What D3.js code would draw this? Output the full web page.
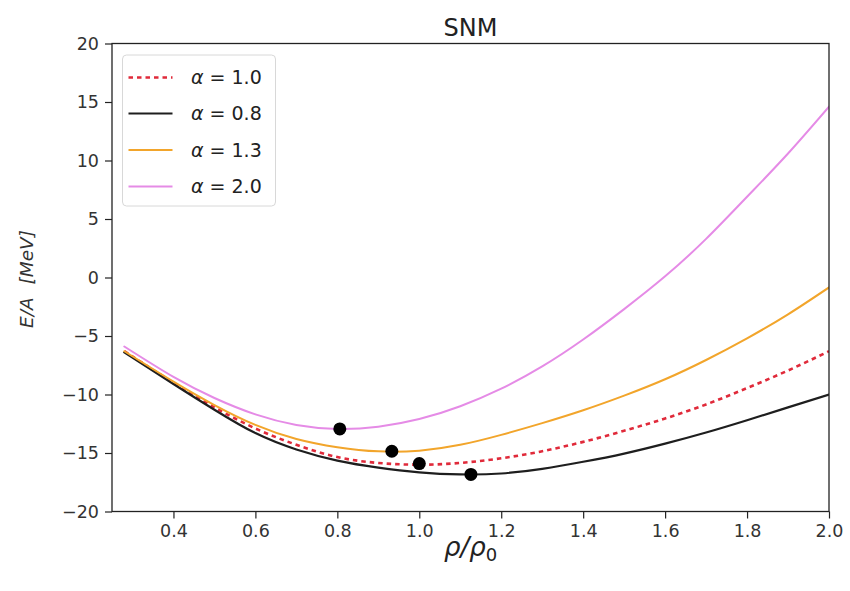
<!DOCTYPE html>
<html>
<head>
<meta charset="utf-8">
<script src="https://cdn.jsdelivr.net/npm/d3@7"></script>
<style>
  html, body { margin: 0; padding: 0; background: #fff; }
  svg { display: block; font-family: "DejaVu Sans", sans-serif; }
</style>
</head>
<body>
<svg id="chart" width="850" height="591"></svg>
<script>
// Density grid (rho / rho0)
const density = [0.28, 0.4, 0.5, 0.6, 0.7, 0.8, 0.9, 1.0, 1.1, 1.2, 1.3, 1.4, 1.5, 1.6, 1.7, 1.8, 1.9, 2.0];

// Energy per nucleon (MeV) for each alpha
const energyA10 = [-6.3, -9.0, -11.1, -12.9, -14.3, -15.35, -15.85, -16.0, -15.85, -15.45, -14.85, -14.05, -13.1, -12.05, -10.85, -9.45, -7.95, -6.3];
const energyA08 = [-6.4, -9.1, -11.3, -13.3, -14.7, -15.65, -16.25, -16.65, -16.83, -16.75, -16.35, -15.75, -15.05, -14.2, -13.25, -12.2, -11.1, -10.0];
const energyA13 = [-6.3, -8.9, -10.9, -12.6, -13.8, -14.5, -14.86, -14.8, -14.3, -13.45, -12.45, -11.35, -10.1, -8.7, -7.05, -5.2, -3.15, -0.85];
const energyA20 = [-5.9, -8.5, -10.3, -11.7, -12.6, -12.94, -12.75, -12.1, -11.0, -9.5, -7.6, -5.3, -2.7, 0.1, 3.3, 6.9, 10.6, 14.6];

// Saturation points (minima)
const minDensity = [1.0, 1.126, 0.933, 0.806];
const minEnergy = [-15.9, -16.83, -14.85, -12.94];

// Series labels and tick values
const seriesLabels = ["\u03b1 = 1.0", "\u03b1 = 0.8", "\u03b1 = 1.3", "\u03b1 = 2.0"];
const xTicks = [0.4, 0.6, 0.8, 1.0, 1.2, 1.4, 1.6, 1.8, 2.0];
const yTicks = [-20, -15, -10, -5, 0, 5, 10, 15, 20];

const series = [
  { label: seriesLabels[0], values: energyA10, color: "#e02a3a", width: 2.6, dash: "4.5,4" },
  { label: seriesLabels[1], values: energyA08, color: "#1e1e1e", width: 2.2, dash: null },
  { label: seriesLabels[2], values: energyA13, color: "#f2a52b", width: 2.0, dash: null },
  { label: seriesLabels[3], values: energyA20, color: "#e58be6", width: 2.0, dash: null }
];

const svg = d3.select("#chart");
const plot = { left: 112, right: 829, top: 43.5, bottom: 511.5 };

const x = d3.scaleLinear().domain([0.25, 2.0]).range([plot.left, plot.right]);
const y = d3.scaleLinear().domain([-20, 20]).range([plot.bottom, plot.top]);

const fmtMinus = d => (d < 0 ? "\u2212" + Math.abs(d) : String(d));

// Clip for curves
svg.append("defs").append("clipPath").attr("id", "clip")
  .append("rect")
  .attr("x", plot.left).attr("y", plot.top)
  .attr("width", plot.right - plot.left).attr("height", plot.bottom - plot.top);

// Curves
const line = d3.line()
  .x((d, i) => x(density[i]))
  .y(d => y(d))
  .curve(d3.curveNatural);

const curves = svg.append("g").attr("clip-path", "url(#clip)");
series.forEach(s => {
  curves.append("path")
    .datum(s.values)
    .attr("d", line)
    .attr("fill", "none")
    .attr("stroke", s.color)
    .attr("stroke-width", s.width)
    .attr("stroke-dasharray", s.dash)
    .attr("stroke-linecap", s.dash ? "butt" : "round");
});

// Minimum markers
svg.append("g").selectAll("circle")
  .data(minDensity)
  .join("circle")
  .attr("cx", d => x(d))
  .attr("cy", (d, i) => y(minEnergy[i]))
  .attr("r", 6.5)
  .attr("fill", "#000");

// Axes
const xAxis = d3.axisBottom(x).tickValues(xTicks).tickFormat(d3.format(".1f")).tickSize(7).tickPadding(6);
const yAxis = d3.axisLeft(y).tickValues(yTicks).tickFormat(fmtMinus).tickSize(7).tickPadding(6);

const gx = svg.append("g").attr("transform", `translate(0,${plot.bottom})`).call(xAxis);
const gy = svg.append("g").attr("transform", `translate(${plot.left},0)`).call(yAxis);

[gx, gy].forEach(g => {
  g.select(".domain").remove();
  g.selectAll(".tick line").attr("stroke", "#222").attr("stroke-width", 1.2);
  g.selectAll(".tick text").attr("fill", "#333").style("font-size", "17.5px").style("font-family", "DejaVu Sans");
});

// Frame
svg.append("rect")
  .attr("x", plot.left).attr("y", plot.top)
  .attr("width", plot.right - plot.left).attr("height", plot.bottom - plot.top)
  .attr("fill", "none").attr("stroke", "#222").attr("stroke-width", 1.3);

// Title
svg.append("text")
  .attr("x", (plot.left + plot.right) / 2).attr("y", 36)
  .attr("text-anchor", "middle")
  .attr("fill", "#222")
  .style("font-size", "24px")
  .text("SNM");

// X label: rho / rho_0
const xl = svg.append("text")
  .attr("x", (plot.left + plot.right) / 2).attr("y", 556)
  .attr("text-anchor", "middle")
  .attr("fill", "#222")
  .style("font-size", "26px");
xl.append("tspan").style("font-style", "italic").text("\u03c1/\u03c1");
xl.append("tspan").attr("dy", 5).style("font-size", "18px").text("0");

// Y label
svg.append("text")
  .attr("transform", "translate(33,279) rotate(-90)")
  .attr("text-anchor", "middle")
  .attr("fill", "#333")
  .style("font-size", "18.5px")
  .style("font-style", "italic")
  .text("E/A\u2002\u2009[MeV]");

// Legend
const legend = svg.append("g");
legend.append("rect")
  .attr("x", 122.5).attr("y", 55).attr("width", 153).attr("height", 151)
  .attr("rx", 4).attr("ry", 4)
  .attr("fill", "#fff").attr("fill-opacity", 0.85)
  .attr("stroke", "#d8d8d8").attr("stroke-width", 1);

const rowY = [77.5, 113.5, 150, 186.5];
series.forEach((s, i) => {
  legend.append("line")
    .attr("x1", 128.5).attr("x2", 172.5)
    .attr("y1", rowY[i]).attr("y2", rowY[i])
    .attr("stroke", s.color)
    .attr("stroke-width", s.width)
    .attr("stroke-dasharray", s.dash);
  const t = legend.append("text")
    .attr("x", 191).attr("y", rowY[i] + 6.5)
    .attr("fill", "#222")
    .style("font-size", "19px");
  t.append("tspan").style("font-style", "italic").text(s.label.slice(0, 1));
  t.append("tspan").text(s.label.slice(1));
});
</script>
</body>
</html>
